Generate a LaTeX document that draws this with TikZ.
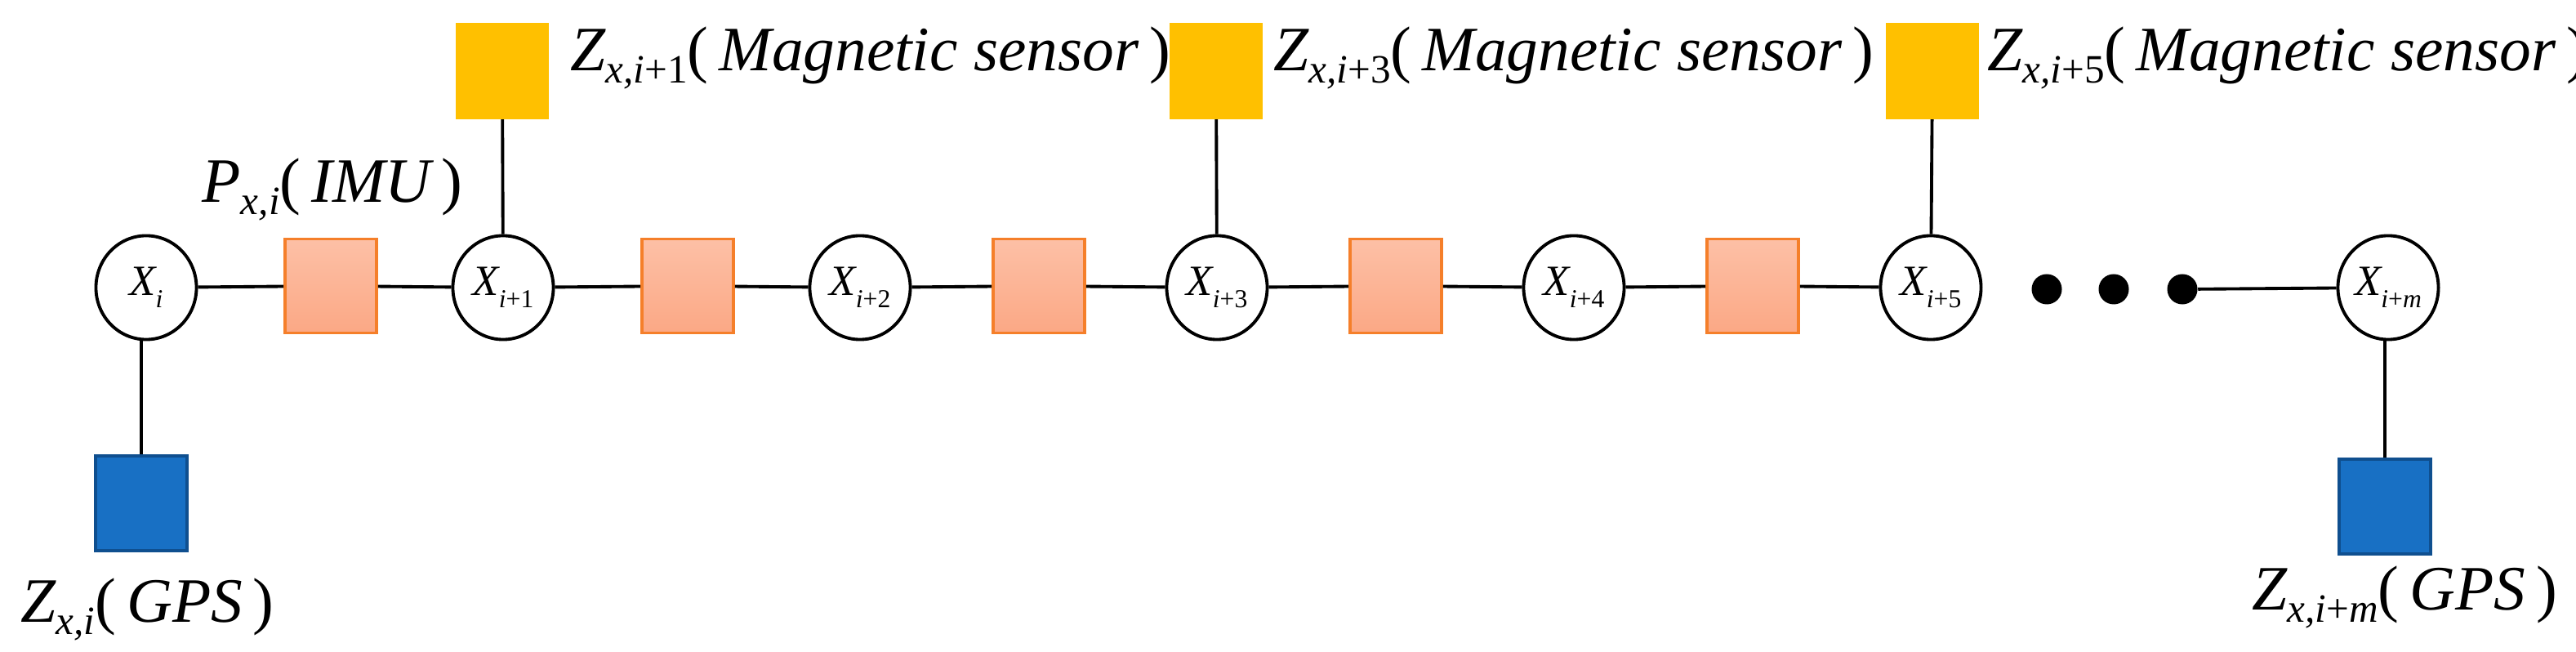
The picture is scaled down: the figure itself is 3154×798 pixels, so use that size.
\documentclass[tikz,border=0pt]{standalone}
\usepackage{fontspec}
\usetikzlibrary{shapes.geometric}
\setmainfont{Liberation Serif}
\newcommand\bigsub[2]{{\fontsize{22}{24}\selectfont\itshape #1}\raisebox{-0.9ex}{\fontsize{14}{16}\selectfont #2}}
\newcommand\smsub[2]{{\fontsize{15}{16}\selectfont\itshape #1}\raisebox{-0.9ex}{\fontsize{9}{11}\selectfont #2}}
\newcommand\paren[1]{{\fontsize{22}{24}\selectfont\upshape(\,\itshape #1\upshape\,)}}
\begin{document}
\begin{tikzpicture}[x=0.01cm,y=-0.01cm,
  var/.style={ellipse,draw,line width=1.1pt,minimum width=1.23cm,minimum height=1.27cm,inner sep=0pt,fill=white},
  imu/.style={line width=1pt,minimum width=1.12cm,minimum height=1.15cm,top color={rgb,255:red,253;green,192;blue,166},bottom color={rgb,255:red,251;green,168;blue,133}},
  mag/.style={fill={rgb,255:red,255;green,192;blue,0},minimum width=1.14cm,minimum height=1.17cm,inner sep=0pt},
  gps/.style={fill={rgb,255:red,24;green,112;blue,196},draw={rgb,255:red,15;green,79;blue,143},line width=1pt,minimum width=1.12cm,minimum height=1.16cm,inner sep=0pt},
  dot/.style={circle,fill=black,minimum size=0.37cm,inner sep=0pt},
  lnk/.style={line width=1.1pt},
  lab/.style={anchor=base west,inner sep=0pt}]
\useasboundingbox (0,0) rectangle (3154,798);
\definecolor{imuedge}{RGB}{245,127,42}
\tikzset{imu/.append style={draw=imuedge}}
\node[var] (x0) at (179,352) {\smsub{X}{\itshape i}};
\node[var] (x1) at (616,352) {\smsub{X}{\itshape i\upshape +1}};
\node[var] (x2) at (1053,352) {\smsub{X}{\itshape i\upshape +2}};
\node[var] (x3) at (1490,352) {\smsub{X}{\itshape i\upshape +3}};
\node[var] (x4) at (1927,352) {\smsub{X}{\itshape i\upshape +4}};
\node[var] (x5) at (2364,352) {\smsub{X}{\itshape i\upshape +5}};
\node[var] (xm) at (2924,352) {\smsub{X}{\itshape i\upshape +\itshape m}};
\node[imu] (p0) at (405,350) {};
\node[imu] (p1) at (842,350) {};
\node[imu] (p2) at (1272,350) {};
\node[imu] (p3) at (1709,350) {};
\node[imu] (p4) at (2146,350) {};
\node[dot] (d1) at (2506,354) {};
\node[dot] (d2) at (2588,354) {};
\node[dot] (d3) at (2672,354) {};
\node[mag] (m1) at (615,87) {};
\node[mag] (m3) at (1489,87) {};
\node[mag] (m5) at (2366,87) {};
\node[gps] (g0) at (173,616) {};
\node[gps] (gm) at (2920,620) {};
\draw[lnk] (x0)--(p0)--(x1)--(p1)--(x2)--(p2)--(x3)--(p3)--(x4)--(p4)--(x5);
\draw[lnk] (d3)--(xm);
\draw[lnk] (m1)--(x1); \draw[lnk] (m3)--(x3); \draw[lnk] (m5)--(x5);
\draw[lnk] (g0.north)--(g0.north|-x0.south);
\draw[lnk] (gm.north)--(gm.north|-xm.south);
\node[lab] (lp) at (247,248) {\bigsub{P}{\itshape x,i}\paren{IMU}};
\node[lab] (lg0) at (25,762) {\bigsub{Z}{\itshape x,i}\paren{GPS}};
\node[lab] (lgm) at (2757,747) {\bigsub{Z}{\itshape x,i\upshape +\itshape m}\paren{GPS}};
\node[lab] (lm1) at (698,87) {\bigsub{Z}{\itshape x,i\upshape +1}\paren{Magnetic sensor}};
\node[lab] (lm3) at (1559,87) {\bigsub{Z}{\itshape x,i\upshape +3}\paren{Magnetic sensor}};
\node[lab] (lm5) at (2433,87) {\bigsub{Z}{\itshape x,i\upshape +5}\paren{Magnetic sensor}};
\end{tikzpicture}
\end{document}
